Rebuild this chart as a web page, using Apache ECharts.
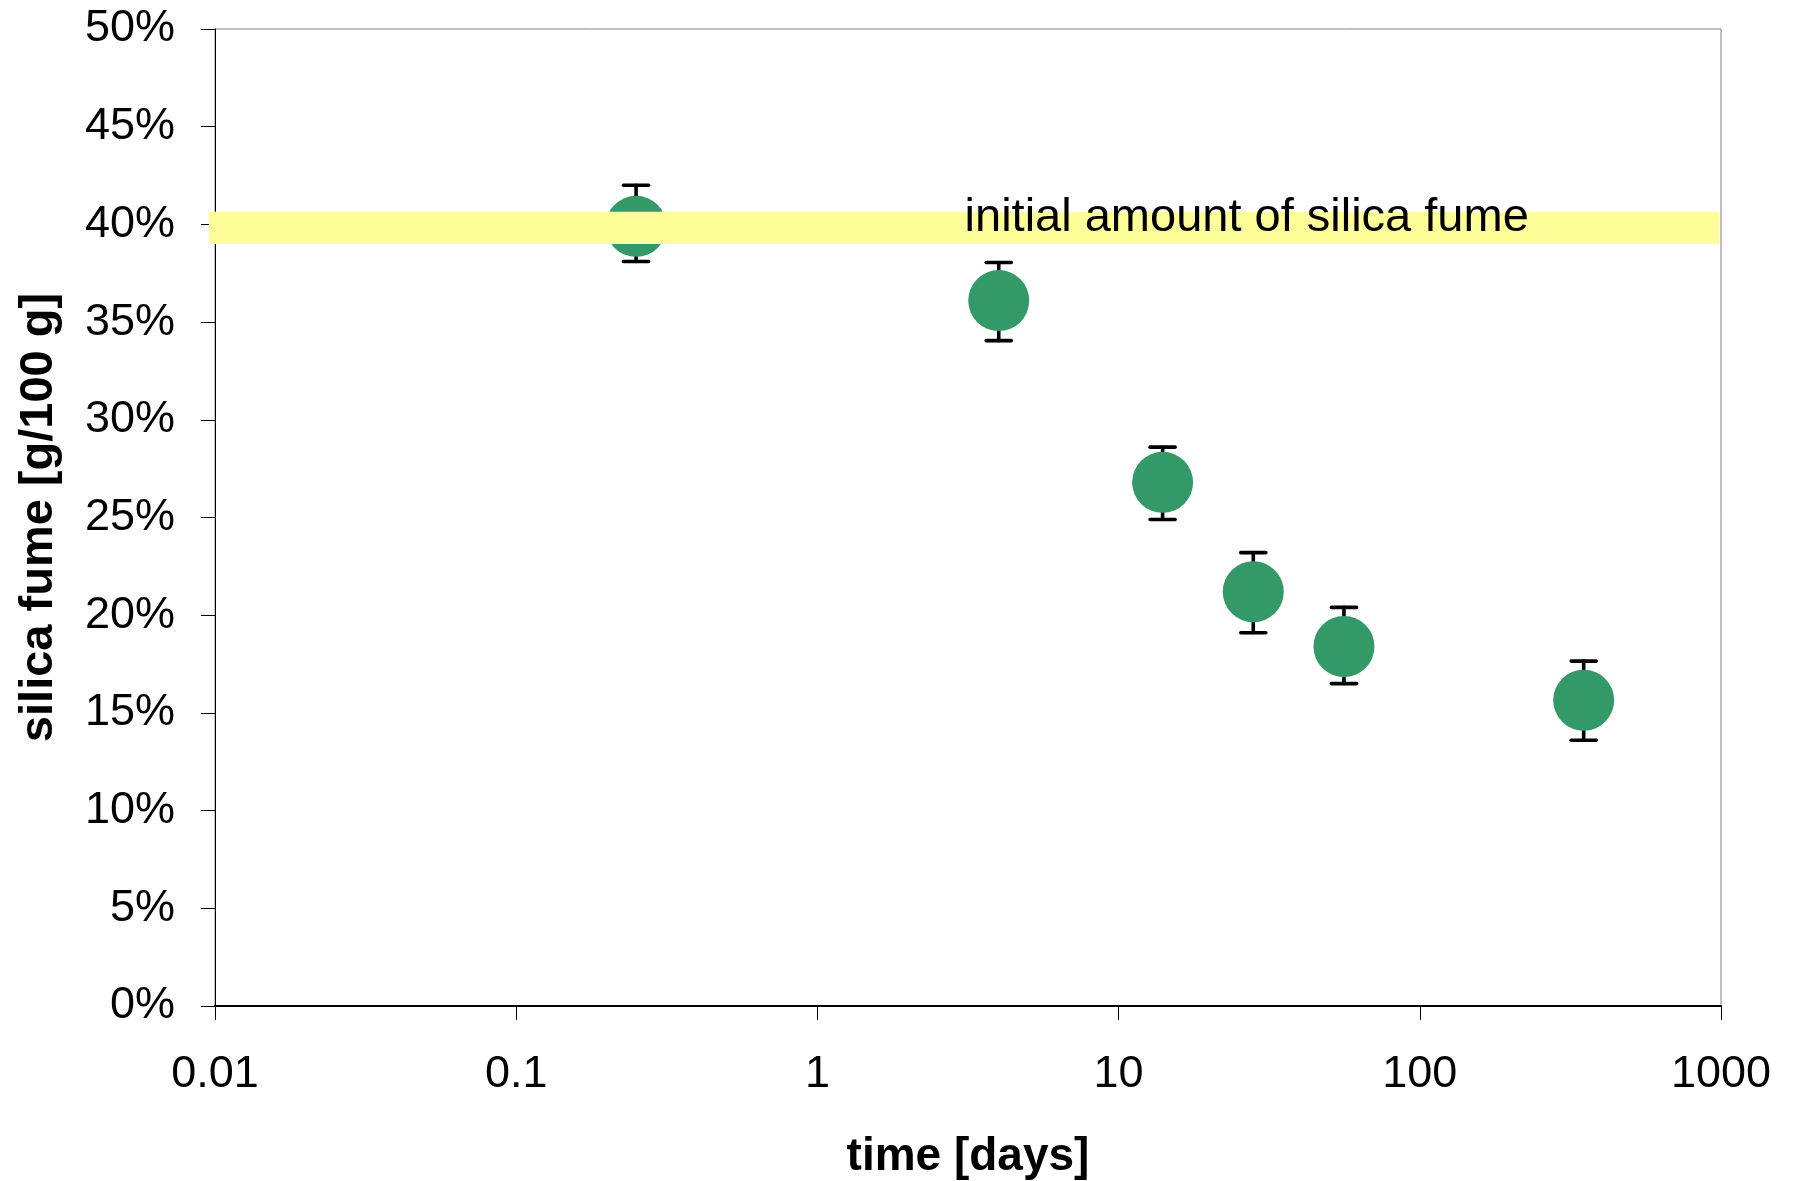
<!DOCTYPE html>
<html>
<head>
<meta charset="utf-8">
<script src="https://cdn.jsdelivr.net/npm/echarts@6/dist/echarts.min.js"></script>
<style>
html,body{margin:0;padding:0;background:#fff;overflow:hidden;}
#chart{width:1793px;height:1181px;}
</style>
</head>
<body>
<div id="chart"></div>
<script>
// time [days]
const days = [0.25, 4, 14, 28, 56, 350];
// silica fume [%]
const silicaFume = [39.9, 36.1, 26.8, 21.2, 18.4, 15.65];
const errLow = [38.1, 34.05, 24.9, 19.1, 16.5, 13.6];
const errHigh = [42.0, 38.05, 28.6, 23.2, 20.4, 17.65];
// initial amount band (y range, %) and its label
const bandY = [39.0, 40.65];
const bandX = [0.01, 1000];
const bandLabel = 'initial amount of silica fume';
const bandLabelAt = [3.08, 40.32];
// axes
const xTickLabels = ['0.01', '0.1', '1', '10', '100', '1000'];
const yMin = 0, yMax = 50, yStep = 5;

const FONT = 'Arial, "Liberation Sans", sans-serif';

const chart = echarts.init(document.getElementById('chart'), null, {renderer: 'canvas'});

const points = days.map((d, i) => [d, silicaFume[i]]);
const errData = days.map((d, i) => [d, errLow[i], errHigh[i]]);

const option = {
  backgroundColor: '#ffffff',
  animation: false,
  grid: {
    left: 215, right: 72, top: 29, bottom: 175,
    containLabel: false,
    outerBoundsMode: 'none',
    show: true, borderColor: '#808080', borderWidth: 1, backgroundColor: 'transparent'
  },
  xAxis: {
    type: 'log', logBase: 10, min: 0.01, max: 1000,
    name: 'time [days]', nameLocation: 'middle', nameGap: 128,
    nameTextStyle: {fontFamily: FONT, fontSize: 46, fontWeight: 'bold', color: '#000'},
    axisLine: {show: true, lineStyle: {color: '#000', width: 2}},
    axisTick: {show: true, length: 14, inside: false, lineStyle: {color: '#000', width: 1}},
    minorTick: {show: false},
    splitLine: {show: false},
    axisLabel: {
      fontFamily: FONT, fontSize: 45, color: '#000', margin: 46,
      formatter: function (v) {
        const k = Math.round(Math.log10(v)) + 2;
        return xTickLabels[k] !== undefined ? xTickLabels[k] : '';
      }
    }
  },
  yAxis: {
    type: 'value', min: yMin, max: yMax, interval: yStep,
    name: 'silica fume [g/100 g]', nameLocation: 'middle', nameGap: 152,
    nameTextStyle: {fontFamily: FONT, fontSize: 47, fontWeight: 'bold', color: '#000'},
    axisLine: {show: true, lineStyle: {color: '#000', width: 1}},
    axisTick: {show: true, length: 14, inside: false, lineStyle: {color: '#000', width: 1}},
    splitLine: {show: false},
    axisLabel: {fontFamily: FONT, fontSize: 45, color: '#000', margin: 40, formatter: '{value}%'}
  },
  series: [
    {
      type: 'custom',
      name: 'error',
      z: 2,
      encode: {x: 0, y: [1, 2]},
      data: errData,
      renderItem: function (params, api) {
        const x = api.value(0);
        const lo = api.coord([x, api.value(1)]);
        const hi = api.coord([x, api.value(2)]);
        const half = 12.5;
        const style = {stroke: '#000', lineWidth: 3.6, lineCap: 'round'};
        return {
          type: 'group',
          children: [
            {type: 'line', shape: {x1: lo[0], y1: lo[1], x2: hi[0], y2: hi[1]}, style: style},
            {type: 'line', shape: {x1: lo[0] - half, y1: lo[1], x2: lo[0] + half, y2: lo[1]}, style: style},
            {type: 'line', shape: {x1: hi[0] - half, y1: hi[1], x2: hi[0] + half, y2: hi[1]}, style: style}
          ]
        };
      }
    },
    {
      type: 'scatter',
      name: 'silica fume',
      z: 3,
      symbol: 'circle',
      symbolSize: 61,
      itemStyle: {color: '#339966', opacity: 1},
      data: points
    },
    {
      type: 'custom',
      name: 'band',
      z: 4,
      silent: true,
      data: [[bandX[0], bandY[0], bandX[1], bandY[1]]],
      encode: {x: [0, 2], y: [1, 3]},
      renderItem: function (params, api) {
        const p1 = api.coord([api.value(0), api.value(3)]);
        const p2 = api.coord([api.value(2), api.value(1)]);
        const t = api.coord(bandLabelAt);
        return {
          type: 'group',
          children: [
            {type: 'rect', shape: {x: p1[0] - 6, y: p1[1], width: p2[0] - p1[0] + 4, height: p2[1] - p1[1]},
             style: {fill: '#FFFF99'}},
            {type: 'text', x: t[0], y: t[1],
             style: {text: bandLabel, fontFamily: FONT, fontSize: 47, fill: '#000',
                     align: 'left', verticalAlign: 'middle'}}
          ]
        };
      }
    }
  ]
};

chart.setOption(option);
</script>
</body>
</html>
